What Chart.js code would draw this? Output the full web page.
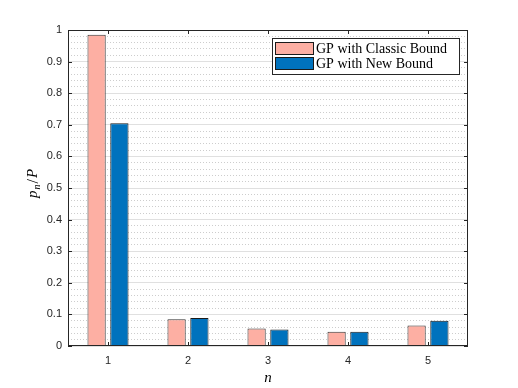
<!DOCTYPE html>
<html>
<head>
<meta charset="utf-8">
<script src="https://cdn.jsdelivr.net/npm/chart.js@4"></script>
<style>
  html, body { margin: 0; padding: 0; background: #fff; }
  #wrap { width: 518px; height: 388px; }
</style>
</head>
<body>
<div id="wrap"><canvas id="myGraph" width="518" height="388"></canvas></div>
<script>
const categories = ["1", "2", "3", "4", "5"];
const classicBound = [0.985, 0.085, 0.055, 0.045, 0.065];
const newBound = [0.705, 0.089, 0.052, 0.045, 0.08];
const seriesLabels = ["GP with Classic Bound", "GP with New Bound"];
const yMajorTicks = [0, 0.1, 0.2, 0.3, 0.4, 0.5, 0.6, 0.7, 0.8, 0.9, 1];

const axisColor = "#262626";
const serif = "'Liberation Serif', 'DejaVu Serif', serif";

// box, inner tick marks, legend and math-style axis titles (MATLAB look)
const matlabFrame = {
  id: "matlabFrame",
  afterDraw(chart) {
    const { ctx, chartArea: a, scales } = chart;
    ctx.save();
    ctx.strokeStyle = axisColor;
    ctx.lineWidth = 1;
    ctx.strokeRect(Math.round(a.left) + 0.5, Math.round(a.top) + 0.5,
      Math.round(a.right - a.left) - 1, Math.round(a.bottom - a.top) - 1);

    ctx.beginPath();
    yMajorTicks.forEach((v) => {
      const y = Math.round(scales.y.getPixelForValue(v)) + 0.5;
      ctx.moveTo(a.left, y); ctx.lineTo(a.left + 4, y);
      ctx.moveTo(a.right, y); ctx.lineTo(a.right - 4, y);
    });
    categories.forEach((c, i) => {
      const x = Math.round(scales.x.getPixelForValue(i)) + 0.5;
      ctx.moveTo(x, a.bottom); ctx.lineTo(x, a.bottom - 4);
      ctx.moveTo(x, a.top); ctx.lineTo(x, a.top + 4);
    });
    ctx.stroke();

    // legend
    const lx = 272, ly = 38, lw = 187, lh = 36;
    ctx.fillStyle = "#fff";
    ctx.fillRect(lx, ly, lw, lh);
    ctx.strokeStyle = axisColor;
    ctx.strokeRect(lx + 0.5, ly + 0.5, lw, lh);
    ctx.font = "14px " + serif;
    ctx.textBaseline = "middle";
    chart.data.datasets.forEach((ds, i) => {
      const sy = ly + 4 + i * 15;
      ctx.fillStyle = ds.backgroundColor;
      ctx.fillRect(lx + 3, sy, 38, 12);
      ctx.strokeStyle = "#1a1a1a";
      ctx.strokeRect(lx + 3.5, sy + 0.5, 38, 12);
      ctx.fillStyle = "#000";
      ctx.fillText(ds.label, lx + 44, sy + 7);
    });

    // x title
    ctx.font = "italic 15px " + serif;
    ctx.textAlign = "center";
    ctx.fillText("n", (a.left + a.right) / 2, 378);

    // y title p_n/P
    ctx.translate(32, 183);
    ctx.rotate(-Math.PI / 2);
    ctx.textAlign = "left";
    ctx.textBaseline = "alphabetic";
    const parts = [
      { t: "p", f: "italic 15px " + serif, dy: 0 },
      { t: "n", f: "italic 10px " + serif, dy: 3 },
      { t: "/", f: "16px " + serif, dy: 1 },
      { t: "P", f: "italic 15px " + serif, dy: 0 },
    ];
    let total = 0;
    parts.forEach((p) => { ctx.font = p.f; total += ctx.measureText(p.t).width + 1; });
    let x = -total / 2;
    parts.forEach((p) => {
      ctx.font = p.f;
      ctx.fillText(p.t, x, 5 + p.dy);
      x += ctx.measureText(p.t).width + 1;
    });
    ctx.restore();
  },
};

const ctx = document.getElementById("myGraph");

new Chart(ctx, {
  type: "bar",
  data: {
    labels: categories,
    datasets: [
      {
        label: seriesLabels[0],
        data: classicBound,
        backgroundColor: "#fdafa3",
        borderColor: "#333333",
        borderWidth: 1,
      },
      {
        label: seriesLabels[1],
        data: newBound,
        backgroundColor: "#0072bd",
        borderColor: "#1a1a1a",
        borderWidth: 1,
      },
    ],
  },
  options: {
    responsive: false,
    animation: false,
    events: [],
    categoryPercentage: 0.57,
    barPercentage: 0.8,
    layout: { padding: { left: 0, top: 30, right: 50, bottom: 0 } },
    plugins: {
      legend: { display: false },
      tooltip: { enabled: false },
    },
    scales: {
      x: {
        offset: true,
        grid: { display: false, drawTicks: false },
        border: { display: false },
        ticks: {
          padding: 8,
          color: axisColor,
          font: { family: "'Liberation Sans', Arial, sans-serif", size: 11 },
        },
        afterFit: (s) => { s.height = 42; },
      },
      y: {
        min: 0,
        max: 1,
        border: {
          display: false,
          dash: (c) => (c.tick && c.index % 5 !== 0 ? [1, 2] : []),
        },
        grid: {
          drawTicks: false,
          color: (c) => (c.index % 5 === 0 ? "#e0e0e0" : "#cdcdcd"),
        },
        ticks: {
          stepSize: 0.02,
          autoSkip: false,
          padding: 6,
          color: axisColor,
          font: { family: "'Liberation Sans', Arial, sans-serif", size: 11 },
          callback: (v) => {
            const t = v * 10;
            return Math.abs(t - Math.round(t)) < 1e-6 ? String(Number(v.toFixed(1))) : "";
          },
        },
        afterFit: (s) => { s.width = 68; },
      },
    },
  },
  plugins: [matlabFrame],
});
</script>
</body>
</html>
